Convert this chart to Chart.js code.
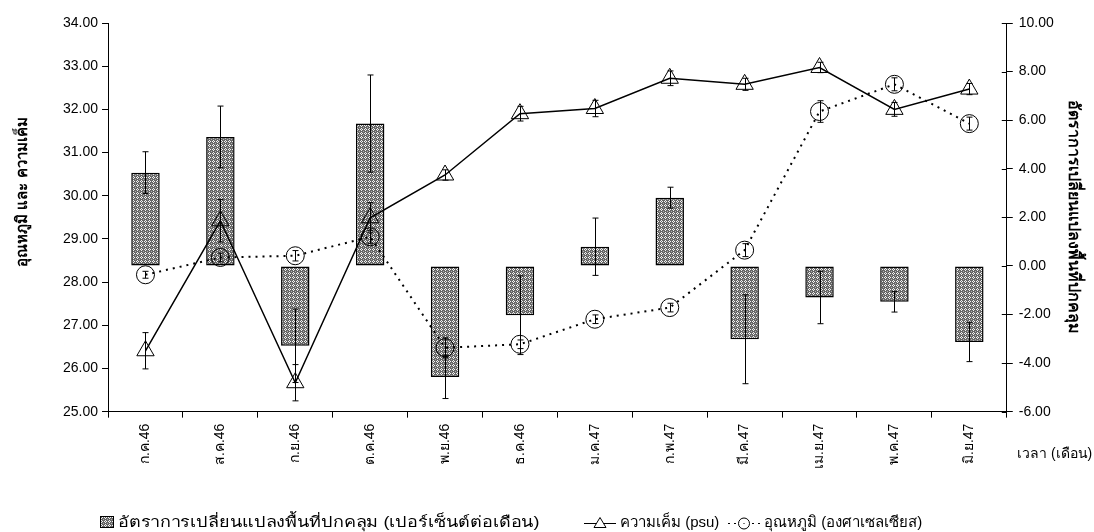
<!DOCTYPE html>
<html lang="th">
<head>
<meta charset="UTF-8">
<title>Cover rate, salinity and temperature</title>
<script src="https://cdn.jsdelivr.net/npm/chart.js@4.4.1/dist/chart.umd.min.js"></script>
<style>
  body { margin: 0; background: #fff; }
  #wrap { position: relative; width: 1094px; height: 532px; }
  #timeLabel { position: absolute; left: 1017px; top: 442px; font: 14px 'Liberation Sans', 'Noto Sans', sans-serif; color: #000; }
  #legend { position: absolute; left: 0; top: 510px; width: 1094px; height: 20px; font: 15px 'Liberation Sans', 'Noto Sans', sans-serif; color: #000; }
  #legend span.item { position: absolute; top: 0; display: flex; align-items: center; white-space: nowrap; }
  #legend canvas { margin-right: 4px; }
  #legend span.wide { display: inline-block; transform: scaleX(1.2); transform-origin: left center; }
</style>
</head>
<body>
<div id="wrap">
  <canvas id="chart" width="1094" height="532"></canvas>
  <div id="timeLabel">เวลา (เดือน)</div>
  <div id="legend"></div>
</div>
<script>
    // months (x axis)
    var months = ['ก.ค.46','ส.ค.46','ก.ย.46','ต.ค.46','พ.ย.46','ธ.ค.46','ม.ค.47','ก.พ.47','มี.ค.47','เม.ย.47','พ.ค.47','มิ.ย.47'];
    // cover change rate (% per month), right axis
    var coverRate = [3.84, 5.31, -3.29, 5.86, -4.57, -2.03, 0.79, 2.81, -3.02, -1.30, -1.48, -3.13];
    var coverErr  = [0.86, 1.27, 1.51, 2.00, 0.89, 1.62, 1.18, 0.43, 1.83, 1.08, 0.42, 0.81];
    // salinity (psu), left axis
    var salinity    = [26.41, 29.42, 25.67, 29.49, 30.48, 31.90, 32.02, 32.72, 32.58, 32.97, 32.00, 32.47];
    var salinityErr = [0.42, 0.49, 0.42, 0.35, 0.12, 0.17, 0.19, 0.17, 0.14, 0.12, 0.16, 0.13];
    // temperature (C), left axis
    var temperature = [28.17, 28.57, 28.61, 29.05, 26.48, 26.56, 27.14, 27.41, 28.74, 31.95, 32.58, 31.67];
    var tempErr     = [0.08, 0.10, 0.12, 0.15, 0.23, 0.10, 0.10, 0.10, 0.15, 0.25, 0.15, 0.15];

    var legendNames = ['อัตราการเปลี่ยนแปลงพื้นที่ปกคลุม (เปอร์เซ็นต์ต่อเดือน)', 'ความเค็ม (psu)', 'อุณหภูมิ (องศาเซลเซียส)'];
    var leftTitle = 'อุณหภูมิ และ ความเค็ม';
    var rightTitle = 'อัตราการเปลี่ยนแปลงพื้นที่ปกคลุม';

    var tickFont = { family: "'Liberation Sans', Arial, sans-serif", size: 14 };
    var titleFont = { family: "'Liberation Sans', 'Noto Sans', sans-serif", size: 16, weight: 'bold' };

    function makePattern(ctx){
        var c = document.createElement('canvas');
        c.width = 4; c.height = 4;
        var p = c.getContext('2d');
        p.fillStyle = '#666';
        p.fillRect(0, 0, 4, 4);
        p.fillStyle = '#f2f2f2';
        [[1,0],[0,1],[2,1],[1,2]].forEach(function(xy){ p.fillRect(xy[0], xy[1], 1, 1); });
        p.fillStyle = '#b0b0b0';
        p.fillRect(3, 3, 1, 1);
        return ctx.createPattern(c, 'repeat');
    }

    // vertical error bars for every dataset that has "errors"
    var errorBars = {
        id: 'errorBars',
        afterDatasetsDraw: function(chart){
            var ctx = chart.ctx;
            chart.data.datasets.forEach(function(ds, i){
                if (!ds.errors) return;
                var meta = chart.getDatasetMeta(i);
                var yScale = chart.scales[ds.yAxisID];
                ctx.save();
                ctx.strokeStyle = '#000';
                ctx.lineWidth = 1;
                meta.data.forEach(function(el, j){
                    var v = ds.data[j], e = ds.errors[j];
                    var x = Math.round(el.x) + 0.5;
                    var y1 = yScale.getPixelForValue(v + e);
                    var y2 = yScale.getPixelForValue(v - e);
                    ctx.beginPath();
                    ctx.moveTo(x, y1); ctx.lineTo(x, y2);
                    ctx.moveTo(x - 3, y1); ctx.lineTo(x + 3, y1);
                    ctx.moveTo(x - 3, y2); ctx.lineTo(x + 3, y2);
                    ctx.stroke();
                });
                ctx.restore();
            });
        }
    };

    // right axis ticks cross into the plot; left title sits a bit above centre like the original
    var extras = {
        id: 'extras',
        afterDraw: function(chart){
            var s = chart.scales.y1, ctx = chart.ctx, area = chart.chartArea;
            ctx.save();
            ctx.strokeStyle = '#000';
            ctx.lineWidth = 1;
            s.ticks.forEach(function(t){
                var y = Math.round(s.getPixelForValue(t.value)) + 0.5;
                ctx.beginPath(); ctx.moveTo(s.left - 5, y); ctx.lineTo(s.left, y); ctx.stroke();
            });
            ctx.translate(23, area.top + (area.bottom - area.top) * 0.435);
            ctx.rotate(-Math.PI / 2);
            ctx.font = "bold 15px 'Liberation Sans', 'Noto Sans', sans-serif";
            ctx.fillStyle = '#000';
            ctx.textAlign = 'center';
            ctx.textBaseline = 'middle';
            ctx.fillText(leftTitle, 0, 0);
            ctx.restore();
        }
    };

    var ctx = document.getElementById('chart').getContext('2d');
    var pattern = makePattern(ctx);

    var chart = new Chart(ctx, {
        data: {
            labels: months,
            datasets: [
                {
                    type: 'line',
                    label: legendNames[1],
                    data: salinity,
                    errors: salinityErr,
                    yAxisID: 'y',
                    borderColor: '#000',
                    borderWidth: 1.5,
                    pointStyle: 'triangle',
                    pointRadius: 10,
                    pointBackgroundColor: 'rgba(255,255,255,0)',
                    pointBorderColor: '#000',
                    pointBorderWidth: 1,
                    tension: 0,
                    order: 1
                },
                {
                    type: 'line',
                    label: legendNames[2],
                    data: temperature,
                    errors: tempErr,
                    yAxisID: 'y',
                    borderColor: '#000',
                    borderWidth: 2,
                    borderDash: [2, 5],
                    pointStyle: 'circle',
                    pointRadius: 9,
                    pointBackgroundColor: 'rgba(255,255,255,0)',
                    pointBorderColor: '#000',
                    pointBorderWidth: 1,
                    tension: 0,
                    order: 2
                },
                {
                    type: 'bar',
                    label: legendNames[0],
                    data: coverRate,
                    errors: coverErr,
                    yAxisID: 'y1',
                    backgroundColor: pattern,
                    borderColor: '#000',
                    borderWidth: 1.5,
                    borderSkipped: false,
                    barPercentage: 0.38,
                    categoryPercentage: 1,
                    order: 3
                }
            ]
        },
        options: {
            responsive: false,
            animation: false,
            layout: { padding: { left: 59, right: 11, top: 23, bottom: 57 } },
            plugins: {
                legend: { display: false },
                tooltip: { enabled: false }
            },
            scales: {
                x: {
                    offset: true,
                    grid: { offset: true, drawOnChartArea: false, drawTicks: true, tickLength: 6, color: '#000' },
                    border: { color: '#000', width: 1 },
                    ticks: { font: tickFont, color: '#000', maxRotation: 90, minRotation: 90, padding: 6 }
                },
                y: {
                    position: 'left',
                    min: 25, max: 34,
                    grid: { drawOnChartArea: false, tickLength: 6, color: '#000' },
                    border: { color: '#000', width: 1 },
                    ticks: { stepSize: 1, font: tickFont, color: '#000', padding: 4,
                             callback: function(v){ return Number(v).toFixed(2); } }
                },
                y1: {
                    position: 'right',
                    min: -6, max: 10,
                    grid: { drawOnChartArea: false, tickLength: 6, color: '#000' },
                    border: { color: '#000', width: 1 },
                    ticks: { stepSize: 2, font: tickFont, color: '#000', padding: 6,
                             callback: function(v){ return Number(v).toFixed(2); } },
                    title: { display: true, text: rightTitle, font: titleFont, color: '#000', padding: { top: 0 } }
                }
            }
        },
        plugins: [errorBars, extras]
    });

    // legend below the chart
    function legendIcon(kind){
        var c = document.createElement('canvas');
        var g;
        if (kind === 'bar'){
            c.width = 14; c.height = 12;
            g = c.getContext('2d');
            g.fillStyle = makePattern(g);
            g.fillRect(0.5, 0.5, 13, 11);
            g.strokeStyle = '#000'; g.lineWidth = 1;
            g.strokeRect(0.5, 0.5, 13, 11);
            return c;
        }
        c.width = 32; c.height = 16;
        g = c.getContext('2d');
        g.strokeStyle = '#000'; g.lineWidth = 1;
        if (kind === 'dot') g.setLineDash([2, 4]);
        g.beginPath(); g.moveTo(0, 9.5); g.lineTo(32, 9.5); g.stroke();
        g.setLineDash([]);
        g.fillStyle = '#fff';
        g.beginPath();
        if (kind === 'tri'){ g.moveTo(16, 3.5); g.lineTo(22, 13.5); g.lineTo(10, 13.5); g.closePath(); }
        else { g.arc(16, 9.5, 5.5, 0, Math.PI * 2); }
        g.fill(); g.stroke();
        if (kind === 'dot'){ g.fillStyle = '#000'; g.fillRect(15.5, 9, 1, 1); }
        return c;
    }
    var legendDiv = document.getElementById('legend');
    var legendLeft = [100, 584, 728];
    [['bar', legendNames[0]], ['tri', legendNames[1]], ['dot', legendNames[2]]].forEach(function(it, k){
        var s = document.createElement('span');
        s.className = 'item';
        s.style.left = legendLeft[k] + 'px';
        s.appendChild(legendIcon(it[0]));
        var t = document.createElement('span');
        if (k === 0) t.className = 'wide';
        t.textContent = it[1];
        s.appendChild(t);
        legendDiv.appendChild(s);
    });
</script>
</body>
</html>
